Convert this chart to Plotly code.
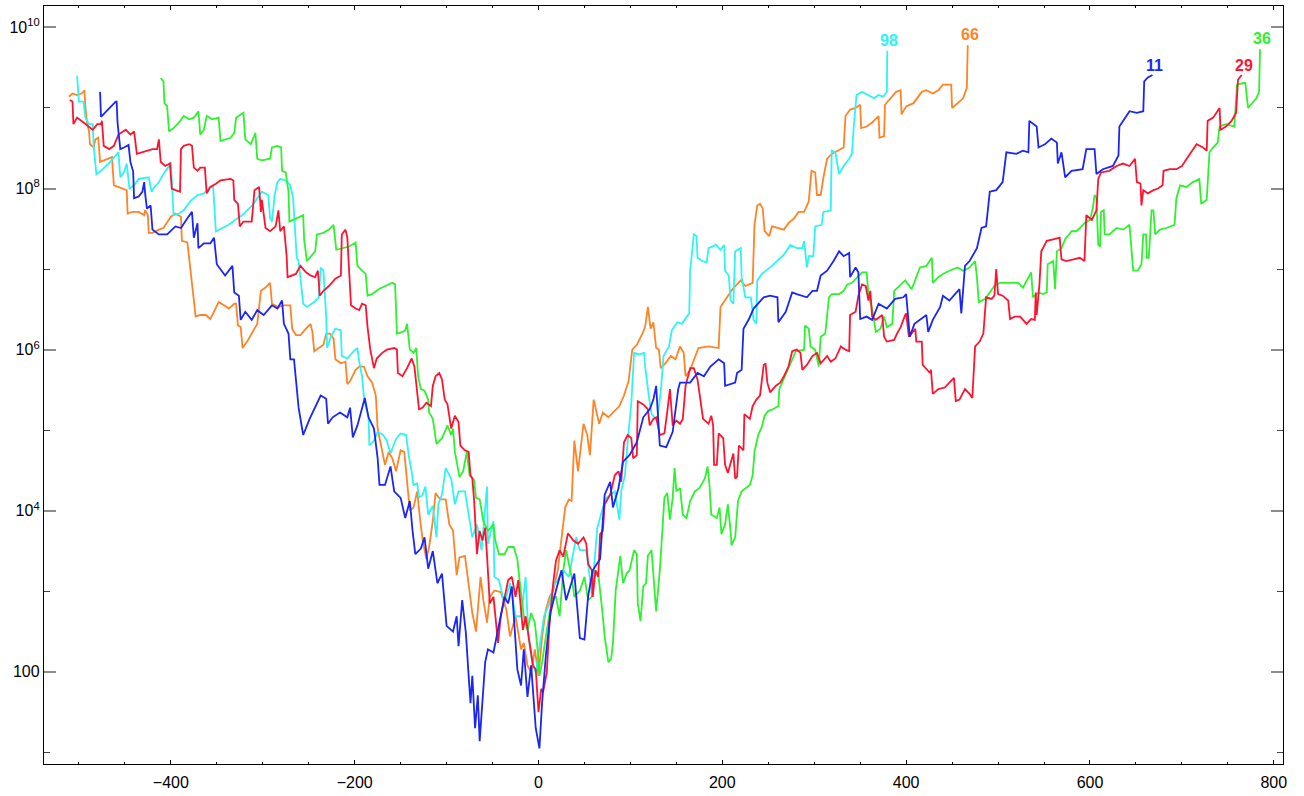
import numpy as np
import plotly.graph_objects as go

# Walk positions (x) and log10 of the walk magnitude for each labelled run.
run11_x = [-477, -476, -460, -459, -458, -455, -451, -446, -444, -441,
           -440, -435, -431, -429, -428, -426, -422, -420, -413, -404,
           -395, -389, -382, -377, -375, -371, -370, -364, -357, -353,
           -350, -341, -333, -331, -326, -324, -319, -312, -306, -299,
           -290, -284, -279, -277, -272, -270, -266, -263, -261, -256,
           -249, -237, -231, -229, -224, -216, -208, -205, -202, -197,
           -189, -185, -179, -175, -173, -167, -161, -157, -150, -145,
           -140, -137, -134, -128, -124, -120, -115, -110, -105, -100,
           -93, -89, -87, -83, -79, -76, -74, -72, -69, -66,
           -64, -58, -55, -49, -43, -37, -33, -29, -23, -19,
           -16, -12, -8, -3, 1, 4, 8, 13, 19, 25,
           30, 39, 45, 50, 54, 59, 67, 70, 72, 78,
           81, 87, 92, 99, 107, 114, 121, 125, 128, 132,
           139, 146, 152, 154, 165, 173, 180, 187, 196, 202,
           203, 214, 216, 221, 223, 229, 234, 245, 252, 260,
           261, 269, 276, 281, 292, 298, 303, 307, 314, 321,
           327, 332, 338, 339, 345, 348, 350, 357, 363, 370,
           379, 388, 397, 400, 404, 409, 422, 424, 429, 437,
           440, 447, 455, 458, 460, 464, 469, 477, 482, 487,
           491, 498, 505, 509, 520, 527, 533, 534, 542, 544,
           551, 558, 564, 565, 569, 573, 580, 592, 596, 605,
           607, 614, 625, 631, 632, 638, 643, 651, 658, 659,
           663, 668]
run11_log = [9.20, 8.89, 9.08, 9.08, 8.82, 8.49, 8.51, 8.54, 8.33, 8.21,
             7.88, 7.90, 7.96, 8.08, 7.94, 7.75, 7.79, 7.49, 7.43, 7.43,
             7.53, 7.51, 7.63, 7.71, 7.39, 7.57, 7.26, 7.32, 7.32, 7.39,
             7.06, 6.92, 7.04, 6.71, 6.67, 6.37, 6.47, 6.37, 6.49, 6.43,
             6.55, 6.51, 6.61, 6.32, 6.20, 5.88, 5.88, 5.57, 5.28, 4.94,
             5.14, 5.43, 5.39, 5.08, 5.16, 5.22, 5.16, 5.28, 4.91, 5.06,
             5.40, 5.16, 5.02, 4.65, 4.32, 4.32, 4.55, 4.24, 4.16, 3.91,
             4.12, 3.75, 3.46, 3.53, 3.67, 3.28, 3.50, 3.10, 3.22, 2.57,
             2.50, 2.69, 2.32, 2.89, 2.48, 1.95, 1.61, 1.95, 1.30, 1.71,
             1.14, 2.12, 2.28, 2.24, 2.61, 2.93, 2.85, 3.06, 2.03, 1.83,
             2.28, 1.69, 2.08, 1.30, 1.05, 1.63, 2.20, 2.73, 3.01, 3.26,
             2.89, 3.22, 2.42, 2.40, 2.94, 3.26, 3.40, 3.83, 4.20, 4.36,
             4.04, 4.28, 4.61, 4.69, 4.85, 5.16, 5.26, 5.38, 5.55, 4.81,
             4.79, 4.98, 5.51, 5.59, 5.59, 5.71, 5.67, 5.79, 5.88, 5.83,
             5.55, 5.59, 5.71, 5.75, 6.26, 6.38, 6.51, 6.65, 6.67, 6.65,
             6.34, 6.47, 6.71, 6.69, 6.65, 6.73, 6.73, 6.92, 6.98, 7.10,
             7.22, 7.16, 7.20, 6.90, 7.02, 6.96, 6.38, 6.41, 6.37, 6.57,
             6.51, 6.63, 6.65, 6.69, 6.16, 6.32, 6.43, 6.22, 6.37, 6.53,
             6.67, 6.61, 6.71, 6.75, 6.45, 7.04, 7.10, 7.26, 7.51, 7.53,
             7.96, 7.98, 8.08, 8.45, 8.43, 8.47, 8.45, 8.84, 8.77, 8.51,
             8.55, 8.62, 8.57, 8.31, 8.45, 8.14, 8.22, 8.24, 8.49, 8.49,
             8.18, 8.24, 8.28, 8.41, 8.77, 8.88, 8.96, 8.94, 8.96, 9.33,
             9.38, 9.41]

run98_x = [-502, -500, -495, -493, -489, -485, -484, -481, -476, -466,
           -457, -455, -451, -448, -445, -440, -435, -424, -421, -419,
           -413, -408, -402, -400, -397, -391, -386, -379, -371, -364,
           -357, -354, -351, -344, -337, -330, -322, -315, -310, -306,
           -301, -294, -292, -290, -287, -284, -281, -275, -270, -267,
           -265, -263, -261, -259, -256, -252, -244, -239, -237, -234,
           -231, -230, -226, -221, -215, -214, -208, -201, -197, -195,
           -192, -190, -189, -185, -184, -179, -175, -169, -165, -161,
           -155, -150, -144, -141, -138, -136, -132, -130, -126, -123,
           -120, -115, -111, -109, -105, -101, -95, -91, -87, -80,
           -76, -72, -67, -62, -56, -55, -49, -48, -43, -37,
           -31, -25, -19, -14, -11, -7, -3, 1, 6, 12,
           16, 21, 27, 33, 41, 45, 52, 58, 64, 70,
           74, 83, 87, 88, 90, 94, 97, 101, 104, 109,
           115, 116, 120, 123, 129, 133, 136, 142, 145, 151,
           156, 162, 164, 165, 169, 172, 173, 178, 183, 185,
           193, 198, 202, 203, 207, 209, 212, 214, 220, 221,
           225, 231, 234, 237, 238, 243, 254, 267, 274, 281,
           287, 289, 292, 294, 299, 301, 308, 310, 318, 319,
           323, 327, 332, 338, 341, 343, 346, 352, 359, 365,
           370, 375, 379, 379.5]
run98_log = [9.40, 9.08, 9.08, 8.88, 8.80, 8.80, 8.53, 8.18, 8.22, 8.33,
             8.45, 8.14, 8.20, 8.31, 8.00, 8.04, 8.12, 8.14, 7.96, 8.00,
             8.08, 8.18, 8.28, 8.33, 7.67, 7.69, 7.73, 7.84, 7.92, 7.94,
             8.02, 8.02, 7.47, 7.51, 7.55, 7.61, 7.67, 7.75, 7.81, 7.88,
             7.96, 7.92, 7.63, 7.59, 7.92, 8.08, 8.12, 8.10, 8.04, 7.88,
             7.47, 7.14, 7.10, 6.88, 6.57, 6.53, 6.59, 6.65, 7.02, 6.98,
             6.41, 6.02, 6.16, 6.26, 6.24, 5.92, 5.89, 5.98, 6.02, 5.85,
             5.67, 5.43, 5.34, 5.18, 4.81, 4.87, 4.98, 4.94, 4.87, 4.71,
             4.89, 4.96, 4.94, 4.67, 4.49, 4.32, 4.34, 4.16, 4.20, 4.30,
             3.95, 4.06, 3.67, 4.08, 4.20, 4.53, 4.40, 4.08, 4.24, 4.24,
             3.95, 3.67, 3.83, 3.51, 4.30, 3.59, 3.87, 3.18, 3.14, 2.85,
             3.10, 2.69, 2.69, 3.18, 2.44, 2.12, 1.99, 2.28, 2.69, 2.85,
             3.06, 3.14, 3.26, 3.18, 3.67, 3.51, 3.51, 2.97, 3.79, 4.04,
             4.16, 4.24, 3.91, 3.89, 4.24, 4.44, 4.85, 5.34, 5.96, 5.94,
             5.96, 5.79, 5.43, 5.20, 5.12, 5.47, 5.92, 6.04, 6.24, 6.34,
             6.32, 6.43, 6.45, 6.98, 7.43, 7.41, 7.14, 7.10, 7.08, 7.26,
             7.30, 7.24, 7.30, 6.98, 6.92, 6.61, 6.57, 7.22, 7.26, 6.90,
             6.65, 6.65, 6.37, 6.32, 6.86, 6.94, 7.04, 7.18, 7.30, 7.26,
             7.26, 7.35, 7.02, 7.16, 7.16, 7.53, 7.55, 7.71, 7.73, 8.47,
             8.45, 8.18, 8.28, 8.37, 8.43, 8.77, 9.16, 9.20, 9.16, 9.12,
             9.16, 9.14, 9.20, 9.71]

run66_x = [-511, -507, -502, -497, -494, -493, -491, -489, -488, -484,
           -482, -479, -477, -473, -467, -464, -462, -457, -451, -448,
           -447, -442, -435, -429, -428, -425, -424, -420, -413, -408,
           -400, -395, -389, -388, -382, -379, -376, -373, -368, -362,
           -357, -351, -348, -342, -337, -331, -329, -327, -324, -322,
           -317, -312, -306, -302, -297, -292, -290, -283, -277, -270,
           -268, -264, -259, -253, -248, -246, -244, -239, -234, -231,
           -227, -223, -221, -215, -210, -208, -205, -199, -195, -190,
           -186, -181, -177, -175, -171, -167, -163, -159, -155, -150,
           -146, -143, -140, -136, -132, -129, -126, -122, -119, -115,
           -112, -107, -101, -97, -93, -89, -86, -80, -76, -72,
           -68, -66, -63, -60, -56, -53, -48, -41, -35, -31,
           -25, -19, -16, -12, -8, -4, 0, 4, 8, 12,
           16, 21, 25, 29, 33, 36, 39, 43, 49, 53,
           56, 60, 66, 70, 76, 83, 88, 93, 98, 102,
           107, 113, 116, 119, 122, 125, 128, 131, 133, 138,
           144, 149, 154, 158, 160, 165, 171, 174, 185, 196,
           198, 203, 211, 220, 225, 233, 235, 238, 241, 244,
           246, 251, 254, 267, 272, 278, 283, 289, 294, 297,
           301, 303, 307, 310, 314, 319, 325, 332, 334, 339,
           345, 350, 351, 357, 363, 370, 371, 376, 377, 384,
           389, 394, 395, 400, 408, 417, 422, 429, 435, 440,
           449, 450, 456, 462, 466, 467]
run66_log = [9.14, 9.18, 9.16, 9.18, 9.22, 9.02, 8.80, 8.71, 8.55, 8.51,
             8.61, 8.63, 8.33, 8.35, 8.37, 8.39, 8.04, 8.02, 8.00, 7.98,
             7.69, 7.71, 7.71, 7.67, 7.73, 7.67, 7.45, 7.45, 7.49, 7.51,
             7.65, 7.69, 7.65, 7.35, 7.33, 7.02, 6.69, 6.41, 6.43, 6.43,
             6.38, 6.53, 6.59, 6.55, 6.51, 6.57, 6.57, 6.30, 6.28, 6.02,
             6.10, 6.20, 6.32, 6.73, 6.77, 6.83, 6.57, 6.53, 6.55, 6.55,
             6.26, 6.18, 6.18, 6.26, 6.32, 6.22, 5.98, 6.02, 6.06, 6.20,
             6.20, 6.14, 5.88, 5.83, 5.85, 5.57, 5.61, 5.75, 5.79, 5.79,
             5.67, 5.59, 5.43, 5.02, 4.77, 4.57, 4.73, 4.65, 4.49, 4.75,
             4.73, 4.32, 4.00, 4.04, 4.24, 3.91, 3.63, 3.40, 3.55, 3.87,
             4.22, 4.14, 4.14, 3.83, 3.75, 3.20, 3.42, 3.44, 3.06, 2.73,
             2.50, 2.79, 3.18, 2.89, 2.61, 2.93, 3.01, 2.99, 2.77, 2.44,
             2.69, 2.28, 2.36, 2.08, 1.99, 2.28, 1.95, 2.44, 2.77, 2.93,
             3.01, 3.26, 3.63, 4.04, 4.14, 4.12, 4.87, 4.49, 5.08, 4.94,
             4.69, 5.38, 5.08, 5.22, 5.16, 5.24, 5.30, 5.43, 5.61, 6.00,
             6.06, 6.20, 6.28, 6.53, 6.26, 6.34, 6.02, 6.00, 5.77, 5.83,
             5.92, 5.88, 6.04, 5.96, 5.67, 5.75, 5.92, 6.02, 6.04, 6.02,
             6.53, 6.61, 6.75, 6.86, 6.79, 6.83, 7.55, 7.79, 7.81, 7.75,
             7.47, 7.41, 7.53, 7.49, 7.57, 7.63, 7.71, 7.71, 7.84, 8.22,
             8.20, 7.92, 7.92, 8.14, 8.37, 8.43, 8.47, 8.51, 8.90, 8.98,
             9.00, 9.04, 8.75, 8.77, 8.82, 8.90, 8.63, 8.65, 9.04, 9.14,
             9.20, 9.22, 8.92, 9.02, 9.06, 9.20, 9.22, 9.18, 9.22, 9.29,
             9.29, 9.00, 9.06, 9.12, 9.25, 9.78]

run29_x = [-510, -507, -506, -502, -495, -489, -485, -480, -476, -475,
           -473, -467, -462, -457, -449, -444, -440, -437, -431, -420,
           -415, -413, -411, -406, -401, -399, -395, -390, -389, -386,
           -380, -377, -375, -371, -368, -363, -361, -357, -351, -346,
           -335, -332, -331, -327, -325, -321, -312, -309, -304, -302,
           -301, -297, -292, -286, -283, -281, -277, -274, -273, -268,
           -264, -259, -253, -248, -243, -240, -238, -234, -228, -221,
           -215, -214, -210, -208, -205, -204, -199, -195, -192, -188,
           -186, -183, -179, -176, -170, -165, -157, -154, -153, -148,
           -143, -138, -135, -133, -130, -126, -122, -117, -115, -112,
           -108, -105, -102, -99, -95, -91, -87, -85, -80, -76,
           -74, -72, -70, -67, -64, -61, -58, -56, -55, -53,
           -49, -47, -44, -41, -37, -33, -29, -25, -22, -19,
           -17, -14, -10, -6, -3, 0, 3, 5, 9, 12,
           16, 19, 23, 27, 32, 38, 43, 49, 52, 54,
           58, 59, 62, 65, 67, 70, 72, 78, 83, 87,
           90, 93, 97, 101, 103, 107, 108, 114, 119, 121,
           125, 128, 132, 137, 140, 143, 146, 150, 154, 157,
           160, 165, 169, 173, 175, 179, 185, 188, 190, 191,
           194, 196, 201, 203, 206, 212, 214, 216, 218, 223,
           224, 230, 233, 237, 241, 245, 247, 249, 252, 258,
           263, 267, 272, 276, 281, 285, 287, 292, 298, 303,
           307, 314, 318, 323, 329, 334, 338, 339, 345, 348,
           352, 356, 359, 361, 363, 367, 374, 376, 379, 387,
           390, 394, 399, 400, 403, 408, 410, 411, 417, 418,
           426, 427, 429, 435, 442, 447, 452, 454, 458, 464,
           469, 472, 475, 480, 484, 487, 493, 496, 498, 500,
           505, 511, 513, 518, 524, 531, 536, 540, 541, 542,
           545, 547, 553, 560, 567, 569, 574, 582, 589, 594,
           596, 602, 607, 609, 612, 621, 629, 636, 643, 649,
           651, 655, 656, 658, 663, 669, 674, 679, 680, 687,
           694, 700, 705, 710, 716, 723, 727, 728, 734, 741,
           742, 748, 754, 759, 761, 765]
run29_log = [9.10, 9.08, 8.80, 8.88, 8.82, 8.77, 8.73, 8.80, 8.80, 8.84,
             8.53, 8.49, 8.53, 8.67, 8.73, 8.67, 8.71, 8.43, 8.45, 8.49,
             8.49, 8.61, 8.33, 8.28, 8.31, 8.00, 7.98, 7.96, 8.49, 8.53,
             8.55, 8.53, 8.26, 8.22, 8.26, 8.26, 7.94, 8.02, 8.06, 8.10,
             8.12, 8.10, 7.86, 7.81, 7.53, 7.59, 7.59, 7.98, 8.02, 7.71,
             7.86, 7.51, 7.47, 7.53, 7.73, 7.47, 7.53, 7.16, 6.90, 6.92,
             6.94, 7.04, 6.96, 6.92, 6.90, 6.98, 6.67, 6.73, 6.79, 6.88,
             6.92, 7.43, 7.49, 7.39, 6.81, 6.55, 6.51, 6.49, 6.57, 6.55,
             6.28, 6.00, 5.77, 5.89, 5.96, 6.00, 6.02, 6.00, 5.71, 5.67,
             5.77, 5.89, 5.79, 5.55, 5.26, 5.28, 5.34, 5.30, 5.55, 5.67,
             5.71, 5.63, 5.38, 5.32, 5.02, 5.18, 5.10, 4.81, 4.75, 4.73,
             4.44, 4.40, 4.12, 3.46, 3.75, 3.63, 3.79, 3.44, 3.18, 2.85,
             2.93, 2.69, 2.36, 2.69, 2.93, 3.14, 3.18, 2.93, 3.14, 2.77,
             2.52, 2.69, 2.40, 2.08, 2.03, 1.50, 1.79, 1.75, 1.99, 2.61,
             3.10, 3.38, 3.51, 3.43, 3.72, 3.63, 3.59, 3.67, 3.59, 3.34,
             3.26, 2.93, 3.26, 3.18, 3.71, 3.75, 4.08, 4.20, 4.44, 4.49,
             4.36, 4.85, 4.94, 4.90, 4.65, 4.69, 5.36, 5.32, 5.26, 5.06,
             5.14, 5.16, 4.94, 4.96, 5.22, 5.51, 5.06, 5.12, 5.08, 5.14,
             5.55, 5.77, 5.77, 5.63, 5.47, 5.14, 5.08, 5.18, 5.06, 4.57,
             4.57, 4.96, 4.90, 4.57, 4.47, 4.71, 4.40, 4.42, 4.81, 4.75,
             5.20, 5.14, 5.30, 5.38, 5.43, 5.81, 5.83, 5.59, 5.47, 5.55,
             5.59, 5.67, 5.79, 5.98, 6.00, 5.96, 5.75, 5.81, 5.92, 5.96,
             5.83, 5.92, 5.85, 5.89, 6.04, 6.00, 5.98, 6.43, 6.47, 6.67,
             6.81, 6.79, 6.61, 6.73, 6.41, 6.37, 6.43, 6.16, 6.10, 6.12,
             6.20, 6.28, 6.43, 6.45, 6.16, 6.24, 6.26, 6.10, 6.10, 5.81,
             5.71, 5.75, 5.45, 5.51, 5.53, 5.59, 5.65, 5.36, 5.38, 5.51,
             5.45, 5.40, 6.04, 6.10, 6.20, 6.65, 6.63, 6.67, 7.00, 6.69,
             6.67, 6.61, 6.38, 6.41, 6.41, 6.32, 6.38, 6.37, 6.71, 6.43,
             6.81, 7.22, 7.35, 7.37, 7.39, 7.12, 7.10, 7.12, 7.14, 7.10,
             7.67, 7.61, 7.73, 8.12, 8.20, 8.22, 8.28, 8.31, 8.28, 8.37,
             8.08, 8.06, 7.79, 7.98, 7.94, 7.98, 8.00, 8.04, 8.22, 8.24,
             8.24, 8.28, 8.37, 8.45, 8.55, 8.51, 8.47, 8.84, 8.88, 9.00,
             8.73, 8.77, 8.84, 8.94, 9.35, 9.41]

run36_x = [-411, -408, -407, -404, -402, -397, -391, -386, -380, -375,
           -370, -368, -364, -361, -355, -348, -346, -341, -335, -331,
           -329, -324, -321, -319, -313, -308, -306, -301, -292, -290,
           -284, -280, -279, -275, -272, -271, -264, -259, -256, -255,
           -252, -246, -243, -241, -234, -228, -223, -220, -214, -206,
           -199, -197, -192, -188, -186, -181, -174, -166, -159, -156,
           -154, -148, -145, -143, -140, -136, -133, -131, -128, -124,
           -120, -119, -115, -111, -105, -99, -95, -93, -91, -86,
           -82, -78, -75, -70, -68, -64, -60, -55, -49, -47,
           -43, -37, -33, -27, -23, -21, -18, -16, -12, -8,
           -4, -1, 1, 4, 8, 12, 16, 19, 23, 27,
           30, 36, 39, 45, 50, 54, 58, 61, 65, 69,
           70, 72, 76, 79, 81, 84, 87, 89, 92, 96,
           99, 104, 107, 108, 111, 114, 117, 119, 123, 125,
           128, 132, 136, 137, 140, 143, 146, 148, 150, 154,
           157, 161, 165, 170, 175, 181, 184, 186, 188, 194,
           197, 199, 203, 206, 209, 210, 214, 217, 221, 226,
           230, 233, 235, 239, 243, 246, 250, 255, 261, 262,
           265, 270, 276, 280, 289, 290, 294, 296, 301, 305,
           307, 312, 316, 319, 327, 332, 336, 341, 347, 352,
           357, 359, 363, 367, 372, 376, 379, 385, 387, 393,
           399, 406, 415, 422, 428, 429, 435, 440, 447, 456,
           462, 469, 475, 477, 479, 486, 491, 496, 502, 516,
           522, 527, 536, 538, 544, 549, 553, 554, 560, 562,
           564, 569, 573, 580, 585, 589, 594, 600, 603, 605,
           607, 609, 611, 612, 615, 616, 621, 629, 636, 643,
           645, 647, 652, 656, 658, 661, 662, 664, 667, 669,
           671, 676, 683, 692, 694, 698, 705, 712, 719, 721,
           727, 730, 734, 739, 741, 748, 757, 760, 767, 769,
           772, 776, 781, 784, 785]
run36_log = [9.37, 9.33, 9.06, 9.02, 8.71, 8.75, 8.82, 8.90, 8.86, 8.88,
             8.96, 8.67, 8.73, 8.90, 8.86, 8.88, 8.59, 8.61, 8.63, 8.69,
             8.88, 8.92, 8.94, 8.61, 8.55, 8.69, 8.37, 8.35, 8.37, 8.51,
             8.53, 8.51, 8.22, 8.20, 7.96, 7.59, 7.63, 7.65, 7.67, 7.37,
             7.10, 7.18, 7.22, 7.43, 7.45, 7.49, 7.55, 7.24, 7.26, 7.28,
             7.33, 7.04, 6.98, 6.94, 6.67, 6.69, 6.75, 6.79, 6.83, 6.81,
             6.20, 6.22, 6.24, 6.32, 6.00, 5.96, 6.02, 5.67, 5.51, 5.49,
             5.38, 5.22, 5.14, 4.83, 4.90, 5.06, 4.94, 5.02, 4.73, 4.42,
             4.49, 4.73, 4.44, 4.38, 4.16, 4.14, 3.87, 3.75, 3.83, 3.63,
             3.46, 3.46, 3.55, 3.55, 3.40, 3.18, 2.89, 2.69, 2.52, 2.73,
             2.61, 2.28, 1.95, 2.12, 2.44, 2.73, 2.93, 2.93, 2.69, 3.26,
             3.51, 3.18, 2.93, 3.01, 3.18, 2.89, 2.93, 3.26, 3.22, 2.85,
             2.69, 2.44, 2.12, 2.16, 2.36, 3.01, 3.26, 3.44, 3.10, 3.22,
             3.26, 3.51, 3.46, 2.85, 2.63, 3.06, 3.10, 3.44, 3.51, 3.18,
             2.75, 3.26, 3.91, 4.16, 4.22, 3.89, 4.16, 4.53, 4.24, 4.28,
             3.95, 3.91, 4.12, 4.24, 4.28, 4.40, 4.55, 4.32, 3.95, 3.91,
             4.04, 3.71, 3.83, 4.08, 3.75, 3.57, 3.67, 4.12, 4.24, 4.28,
             4.32, 4.44, 4.73, 4.94, 5.04, 5.18, 5.24, 5.26, 5.30, 5.51,
             5.59, 5.71, 5.88, 5.98, 6.00, 6.30, 6.26, 6.04, 6.00, 5.79,
             6.16, 6.20, 6.65, 6.69, 6.69, 6.73, 6.81, 6.83, 6.90, 6.96,
             6.96, 6.69, 6.51, 6.22, 6.26, 6.41, 6.28, 6.32, 6.73, 6.79,
             6.86, 6.75, 7.02, 7.04, 7.14, 6.83, 6.90, 6.94, 6.98, 7.02,
             6.98, 7.02, 7.10, 6.90, 6.59, 6.63, 6.71, 6.79, 6.83, 6.83,
             6.83, 6.77, 6.96, 6.65, 6.71, 6.69, 6.71, 7.06, 7.10, 6.75,
             7.22, 7.26, 7.37, 7.47, 7.47, 7.51, 7.57, 7.61, 7.75, 7.92,
             7.88, 7.30, 7.28, 7.71, 7.73, 7.43, 7.43, 7.51, 7.49, 7.55,
             7.26, 6.98, 6.98, 7.06, 7.43, 7.43, 7.14, 7.14, 7.73, 7.73,
             7.43, 7.49, 7.51, 7.55, 7.88, 8.04, 8.02, 8.08, 8.12, 7.81,
             7.86, 8.45, 8.51, 8.57, 8.77, 8.80, 8.77, 9.29, 9.31, 9.31,
             9.00, 9.06, 9.12, 9.20, 9.73]

# End-of-run labels: text, position (x, log10 y)
label_text = ["98", "66", "11", "29", "36"]
label_x = [381, 470, 670, 768, 787]
label_log = [9.84, 9.91, 9.53, 9.53, 9.86]

series = [
    ("66", run66_x, run66_log, "#ff8427"),
    ("98", run98_x, run98_log, "#2ef4f4"),
    ("36", run36_x, run36_log, "#2ef22e"),
    ("29", run29_x, run29_log, "#ff1430"),
    ("11", run11_x, run11_log, "#1a26f5"),
]
colors = {name: c for name, _, _, c in series}

fig = go.Figure()
for name, xs, ls, color in series:
    assert len(xs) == len(ls), name
    fig.add_trace(go.Scatter(
        x=xs, y=np.power(10.0, ls), mode="lines", name=name,
        line=dict(color=color, width=1.8), showlegend=False,
        hoverinfo="skip",
    ))

for t, lx, ll in zip(label_text, label_x, label_log):
    fig.add_annotation(
        x=lx, y=ll, xref="x", yref="y", text="<b>%s</b>" % t,
        showarrow=False, xanchor="center", yanchor="middle",
        font=dict(family="Liberation Sans, Arial, sans-serif", size=16,
                  color=colors[t]),
    )

font = dict(family="Liberation Sans, Arial, sans-serif", size=16, color="black")
ytick_vals = [1e2, 1e4, 1e6, 1e8, 1e10]
ytick_text = ["100", "10<sup>4</sup>", "10<sup>6</sup>", "10<sup>8</sup>",
              "10<sup>10</sup>"]

fig.update_layout(
    width=1304, height=796,
    margin=dict(l=44, r=21, t=5, b=24),
    paper_bgcolor="white", plot_bgcolor="white",
    font=font,
    xaxis=dict(
        range=[-538, 810], tickmode="array",
        tickvals=[-400, -200, 0, 200, 400, 600, 800],
        ticks="inside", ticklen=4, tickwidth=1.2, tickcolor="black",
        showgrid=False, zeroline=False,
        showline=True, linecolor="black", linewidth=1.3, mirror="allticks",
        tickfont=font, ticklabelstandoff=4,
        minor=dict(tickmode="array",
                   tickvals=[-500, -450, -350, -300, -250, -150, -100, -50,
                             50, 100, 150, 250, 300, 350, 450, 500, 550,
                             650, 700, 750],
                   ticks="inside", ticklen=2, tickwidth=1.2,
                   tickcolor="black"),
    ),
    yaxis=dict(
        type="log", range=[0.856, 10.266], tickmode="array",
        tickvals=ytick_vals, ticktext=ytick_text,
        ticks="inside", ticklen=12, tickwidth=1.5, tickcolor="#8c8c8c",
        showgrid=False, zeroline=False,
        showline=True, linecolor="black", linewidth=1.3, mirror="allticks",
        tickfont=font,
        minor=dict(tickmode="array", tickvals=[1e1, 1e3, 1e5, 1e7, 1e9],
                   ticks="inside", ticklen=6, tickwidth=1.2,
                   tickcolor="#444444"),
    ),
)

fig.write_html("out.html")
